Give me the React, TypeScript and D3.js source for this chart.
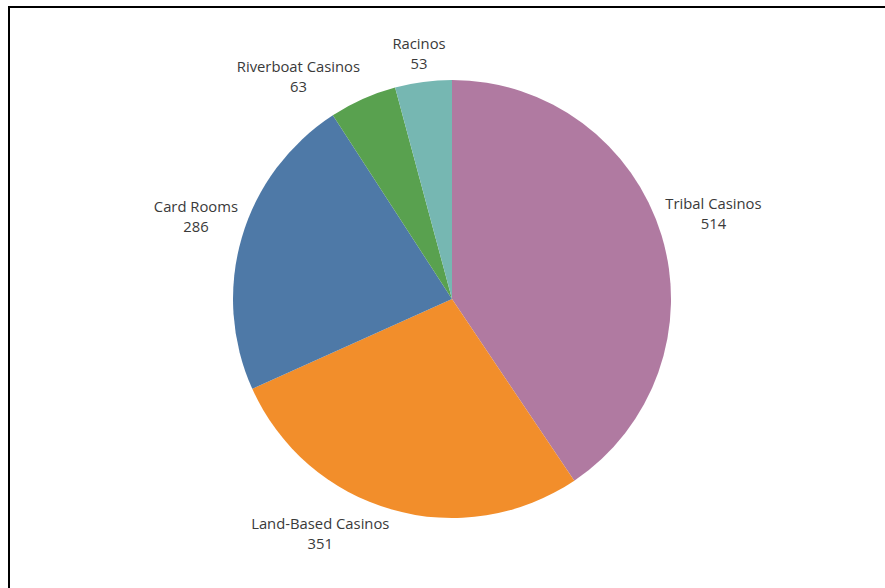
import React from "react";
import * as d3 from "d3";

const categories = ["Tribal Casinos", "Land-Based Casinos", "Card Rooms", "Riverboat Casinos", "Racinos"];
const values = [514, 351, 286, 63, 53];
const colors = ["#b07aa1", "#f28e2b", "#4e79a7", "#59a14f", "#76b7b2"];

const W = 885;
const H = 588;
const FS = 14.8;
const FONT = `${FS}px 'Open Sans'`;
const LINE = 20;

function measure(text: string): number {
  const c = document.createElement("canvas");
  const ctx = c.getContext("2d")!;
  ctx.font = FONT;
  return ctx.measureText(text).width;
}

export default function App() {
  const cx = 452;
  const cy = 299;
  const r = 219;
  const data = categories.map((c, i) => ({ name: c, value: values[i], color: colors[i] }));
  const pie = d3.pie<any>().value((d: any) => d.value).sort(null);
  const arcs = pie(data);
  const arcGen = d3.arc<any>().innerRadius(0).outerRadius(r);

  return (
    <svg width={W} height={H} style={{ position: "absolute", left: 0, top: 0 }}>
      <rect x={0} y={0} width={W} height={H} fill="#fff" />
      <rect x={9} y={7} width={W + 20} height={H + 20} fill="none" stroke="#000" strokeWidth={2} />
      <g transform={`translate(${cx},${cy})`}>
        {arcs.map((a, i) => (
          <path key={i} d={arcGen(a) as string} fill={a.data.color} />
        ))}
      </g>
      {arcs.map((a, i) => {
        const mid = (a.startAngle + a.endAngle) / 2;
        const px = cx + Math.sin(mid) * (r + 2);
        const py = cy - Math.cos(mid) * (r + 2);
        const bw = Math.max(measure(a.data.name), measure(String(a.data.value)));
        const deg = (mid * 180) / Math.PI;
        let x: number;
        if (deg < 15 || deg > 345 || (deg > 165 && deg < 195)) x = px - 4;
        else if (deg < 180) x = px + 2 + bw / 2;
        else x = px - 2 - bw / 2;
        const top = Math.cos(mid) > 0;
        const y1 = top ? py - 5 - LINE - (deg > 345 || deg < 15 ? 6 : 0) : py + 17;
        return (
          <g key={"l" + i} fontFamily="'Open Sans'" fontSize={FS} fill="#3a3a3a" textAnchor="middle">
            <text x={x} y={y1}>{a.data.name}</text>
            <text x={x} y={y1 + LINE}>{a.data.value}</text>
          </g>
        );
      })}
    </svg>
  );
}
